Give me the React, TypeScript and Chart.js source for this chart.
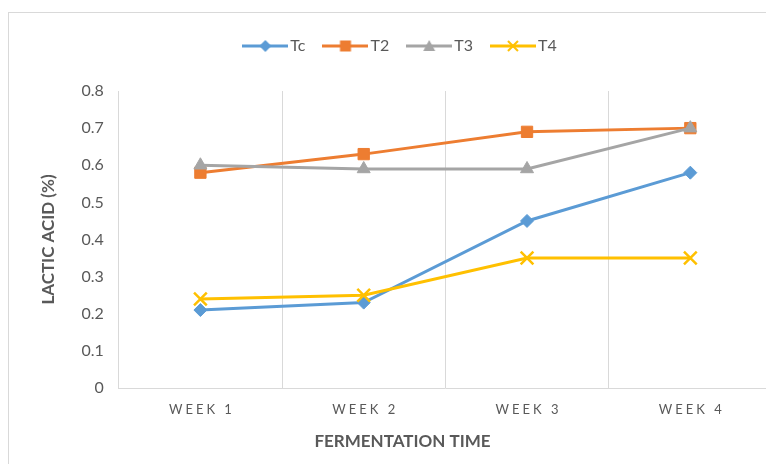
import React, { useEffect, useRef } from "react";
import { Chart, registerables } from "chart.js";

Chart.register(...registerables);

// ---- data ----
const categories = ["WEEK 1", "WEEK 2", "WEEK 3", "WEEK 4"];
const seriesNames = ["Tc", "T2", "T3", "T4"];
const tcValues = [0.21, 0.23, 0.45, 0.58];
const t2Values = [0.58, 0.63, 0.69, 0.7];
const t3Values = [0.6, 0.59, 0.59, 0.7];
const t4Values = [0.24, 0.25, 0.35, 0.35];
const yMin = 0;
const yMax = 0.8;
const yStep = 0.1;
const xTitle = "FERMENTATION TIME";
const yTitle = "LACTIC ACID (%)";

// ---- styles ----
const seriesColors = ["#5B9BD5", "#ED7D31", "#A5A5A5", "#FFC000"];
const seriesPointStyles = ["rectRot", "rect", "triangle", "crossRot"];
const seriesPointRadius = [6.5, 8, 7.5, 9];
const seriesValues = [tcValues, t2Values, t3Values, t4Values];
const FONT = "Lato, 'Open Sans', sans-serif";
const TEXT = "#595959";
const GRID = "#D9D9D9";

function makeLegendImage(color: string, style: string): HTMLCanvasElement {
  const c = document.createElement("canvas");
  c.width = 46;
  c.height = 16;
  const g = c.getContext("2d")!;
  const cx = 23;
  const cy = 8;
  g.strokeStyle = color;
  g.fillStyle = color;
  g.lineWidth = 3;
  g.beginPath();
  g.moveTo(0, cy);
  g.lineTo(46, cy);
  g.stroke();
  g.beginPath();
  if (style === "rectRot") {
    g.moveTo(cx - 6, cy);
    g.lineTo(cx, cy - 6);
    g.lineTo(cx + 6, cy);
    g.lineTo(cx, cy + 6);
    g.closePath();
    g.fill();
  } else if (style === "rect") {
    g.rect(cx - 5.5, cy - 5.5, 11, 11);
    g.fill();
  } else if (style === "triangle") {
    g.moveTo(cx - 6, cy + 5);
    g.lineTo(cx, cy - 6);
    g.lineTo(cx + 6, cy + 5);
    g.closePath();
    g.fill();
  } else {
    g.lineWidth = 2;
    g.moveTo(cx - 5, cy - 5);
    g.lineTo(cx + 5, cy + 5);
    g.moveTo(cx + 5, cy - 5);
    g.lineTo(cx - 5, cy + 5);
    g.stroke();
  }
  return c;
}

const xLabelPlugin = {
  id: "xLabelsSpaced",
  afterDraw(chart: any) {
    const scale = chart.scales.x;
    const ctx = chart.ctx as CanvasRenderingContext2D;
    ctx.save();
    ctx.font = `13px ${FONT}`;
    ctx.fillStyle = TEXT;
    ctx.textAlign = "center";
    ctx.textBaseline = "middle";
    (ctx as any).letterSpacing = "3px";
    categories.forEach((label, i) => {
      const x = scale.getPixelForTick(i);
      ctx.fillText(label, x + 1.5, scale.top + 22);
    });
    ctx.restore();
  },
};

const legendSpacePlugin = {
  id: "legendSpace",
  beforeInit(chart: any) {
    const legend = chart.legend;
    if (!legend) return;
    const orig = legend.fit;
    legend.fit = function () {
      orig.call(this);
      this.height += 27;
    };
  },
};

export default function App() {
  const ref = useRef<HTMLCanvasElement | null>(null);

  useEffect(() => {
    if (!ref.current) return;
    const datasets = seriesNames.map((name, i) => ({
      label: name,
      data: seriesValues[i],
      borderColor: seriesColors[i],
      backgroundColor: seriesColors[i],
      borderWidth: 3,
      pointStyle: seriesPointStyles[i] as any,
      pointRadius: seriesPointRadius[i],
      pointBorderWidth: i === 3 ? 2.5 : 1,
      pointBackgroundColor: seriesColors[i],
      pointBorderColor: seriesColors[i],
      fill: false,
      tension: 0,
      order: seriesNames.length - i,
    }));

    const legendImages = seriesNames.map((_, i) =>
      makeLegendImage(seriesColors[i], seriesPointStyles[i])
    );

    const chart = new Chart(ref.current, {
      type: "line",
      data: { labels: categories, datasets },
      plugins: [xLabelPlugin, legendSpacePlugin],
      options: {
        animation: false,
        responsive: false,
        devicePixelRatio: 1,
        layout: { padding: { top: 2, left: 24, right: 12, bottom: 12 } },
        plugins: {
          tooltip: { enabled: false },
          legend: {
            display: true,
            position: "top",
            labels: {
              usePointStyle: true,
              pointStyleWidth: 34,
              boxHeight: 16,
              padding: 23,
              color: TEXT,
              font: { family: FONT, size: 16 },
              sort: (a: any, b: any) => a.datasetIndex - b.datasetIndex,
              generateLabels: (chart: any) => {
                const items = (Chart.defaults.plugins.legend.labels as any).generateLabels(chart);
                return items.map((it: any) => ({
                  ...it,
                  pointStyle: legendImages[it.datasetIndex],
                  fontColor: TEXT,
                }));
              },
            },
          },
          title: {
            display: true,
            position: "bottom",
            text: xTitle,
            color: TEXT,
            font: { family: FONT, size: 17, weight: "bold" },
            padding: { top: 2, bottom: 8 },
          },
        },
        scales: {
          x: {
            type: "category",
            offset: true,
            grid: { display: true, offset: true, color: GRID, lineWidth: 1, drawTicks: false },
            border: { display: true, color: GRID, width: 1 },
            ticks: {
              color: "rgba(0,0,0,0)",
              font: { family: FONT, size: 13 },
              padding: 13,
              maxRotation: 0,
            },
          },
          y: {
            min: yMin,
            max: yMax,
            grid: { display: false, drawTicks: false },
            border: { display: true, color: GRID, width: 1 },
            ticks: {
              stepSize: yStep,
              color: TEXT,
              font: { family: FONT, size: 16 },
              padding: 15,
            },
            title: {
              display: true,
              text: yTitle,
              color: TEXT,
              font: { family: FONT, size: 17, weight: "bold" },
              padding: { top: 5, bottom: 8 },
            },
          },
        },
      },
    } as any);

    return () => chart.destroy();
  }, []);

  return (
    <div style={{ width: 766, height: 456, overflow: "hidden" }}>
      <div
        style={{
          marginTop: 4,
          width: 775,
          height: 470,
          border: "1px solid #D9D9D9",
          background: "#fff",
        }}
      >
        <canvas ref={ref} width={775} height={459} style={{ display: "block" }} />
      </div>
    </div>
  );
}
